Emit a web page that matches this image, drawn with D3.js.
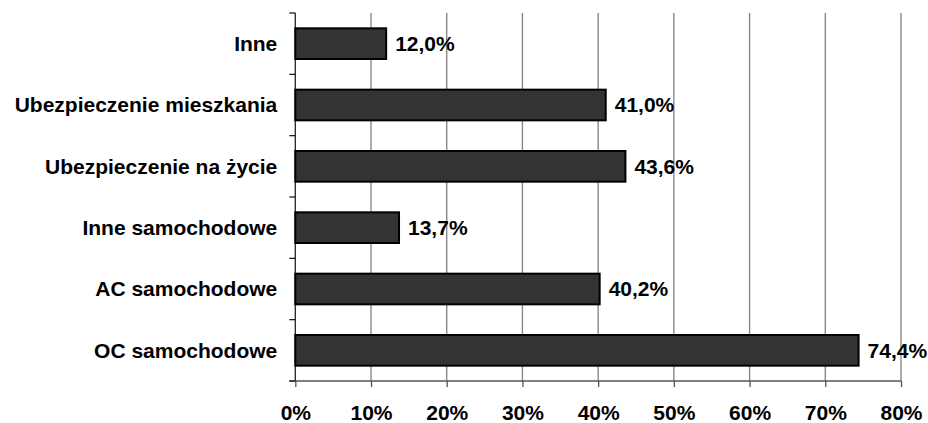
<!DOCTYPE html>
<html>
<head>
<meta charset="utf-8">
<script src="https://cdn.jsdelivr.net/npm/d3@7"></script>
<style>
  html, body { margin: 0; padding: 0; background: #fff; }
  svg { display: block; }
  text { font-family: "Liberation Sans", Arial, sans-serif; font-weight: bold; fill: #000; }
</style>
</head>
<body>
<svg id="chart" width="928" height="423"></svg>
<script>
const categories = ["Inne", "Ubezpieczenie mieszkania", "Ubezpieczenie na życie", "Inne samochodowe", "AC samochodowe", "OC samochodowe"];
const values = [12.0, 41.0, 43.6, 13.7, 40.2, 74.4];
const tickValues = [0, 10, 20, 30, 40, 50, 60, 70, 80];

const svg = d3.select("#chart");
const margin = { left: 295.3, right: 27, top: 13, bottom: 42 };
const W = 928, H = 423;
const FS = "21px";

const x = d3.scaleLinear().domain([0, 80]).range([margin.left, W - margin.right]);
const y = d3.scaleBand().domain(categories).range([margin.top, H - margin.bottom]).paddingInner(0.5).paddingOuter(0.25);

const fmt = v => v.toFixed(1).replace(".", ",") + "%";

// gridlines
svg.append("g").selectAll("line").data(tickValues.slice(1)).join("line")
  .attr("x1", d => x(d)).attr("x2", d => x(d))
  .attr("y1", margin.top).attr("y2", H - margin.bottom)
  .attr("stroke", "#808080").attr("stroke-width", 1.3);

// x axis
const xAxis = svg.append("g").attr("transform", `translate(0,${H - margin.bottom})`)
  .call(d3.axisBottom(x).tickValues(tickValues).tickFormat(d => d + "%").tickSize(6).tickSizeOuter(0));
xAxis.select(".domain").remove();
xAxis.append("line").attr("x1", margin.left - 6).attr("x2", x(80)).attr("y1", 0).attr("y2", 0)
  .attr("stroke", "#555").attr("stroke-width", 1.3);
xAxis.selectAll(".tick line").attr("stroke", "#555").attr("stroke-width", 1.3);
xAxis.selectAll(".tick text").attr("y", 32).attr("dy", "0.32em")
  .style("font-size", FS).style("font-family", "'Liberation Sans', Arial, sans-serif").style("font-weight", "bold").attr("fill", "#000");

// y axis line and ticks at band boundaries
const bounds = d3.range(categories.length + 1).map(i => margin.top + i * y.step());
svg.append("line").attr("x1", margin.left).attr("x2", margin.left)
  .attr("y1", margin.top).attr("y2", H - margin.bottom)
  .attr("stroke", "#222").attr("stroke-width", 1.3);
svg.append("g").selectAll("line").data(bounds).join("line")
  .attr("x1", margin.left - 6).attr("x2", margin.left)
  .attr("y1", d => d).attr("y2", d => d)
  .attr("stroke", "#222").attr("stroke-width", 1.3);

// category labels
svg.append("g").selectAll("text").data(categories).join("text")
  .attr("x", margin.left - 18)
  .attr("y", d => y(d) + y.bandwidth() / 2)
  .attr("dy", "0.35em")
  .attr("text-anchor", "end")
  .style("font-size", FS)
  .text(d => d);

// bars
svg.append("g").selectAll("rect").data(values).join("rect")
  .attr("x", x(0))
  .attr("y", (d, i) => y(categories[i]))
  .attr("width", d => x(d) - x(0))
  .attr("height", y.bandwidth())
  .attr("fill", "#333333")
  .attr("stroke", "#000")
  .attr("stroke-width", 2);

// value labels
svg.append("g").selectAll("text").data(values).join("text")
  .attr("x", d => x(d) + 9)
  .attr("y", (d, i) => y(categories[i]) + y.bandwidth() / 2)
  .attr("dy", "0.35em")
  .style("font-size", FS)
  .text(d => fmt(d));
</script>
</body>
</html>
